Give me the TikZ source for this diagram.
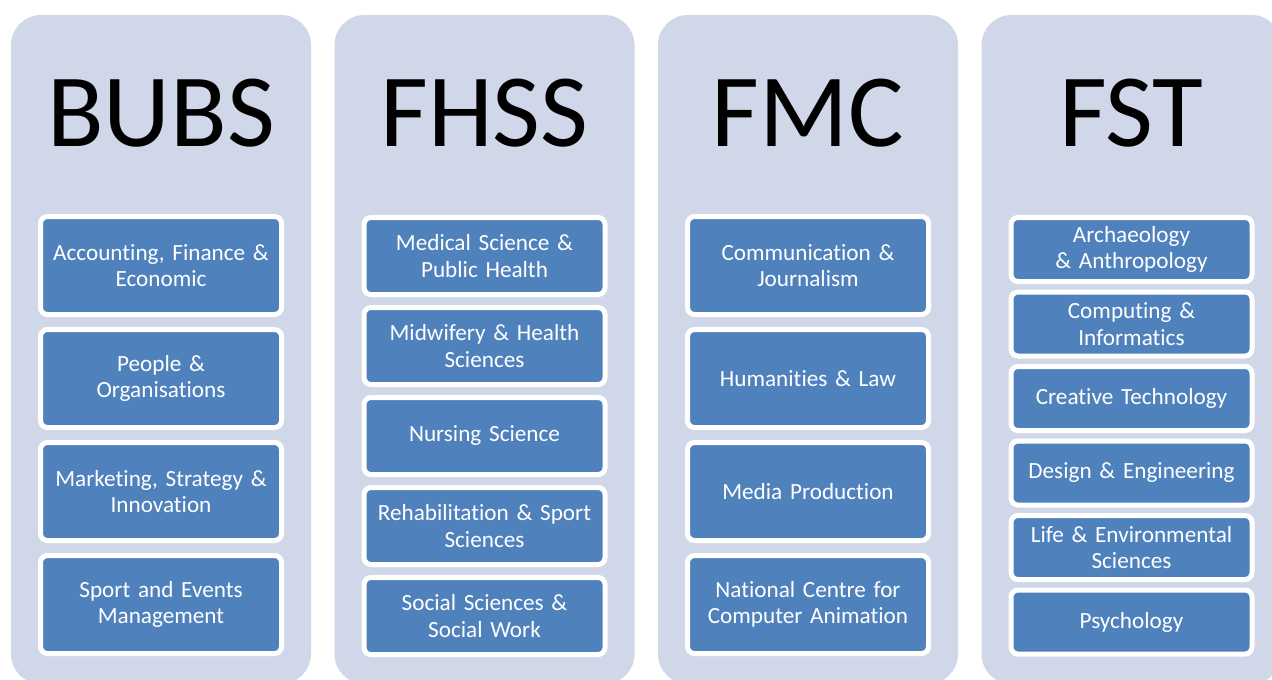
\documentclass[tikz,border=0pt]{standalone}
\usepackage{fontspec}
\setmainfont{Carlito}[WordSpace={0.85},Ligatures=CommonOff]
\definecolor{bgcol}{RGB}{208,215,232}
\definecolor{unitblue}{RGB}{79,129,189}
\begin{document}
\begin{tikzpicture}[x=1pt,y=-1pt,
  col/.style={draw=none, fill=bgcol, rounded corners=30pt, minimum width=300pt, minimum height=669pt, inner sep=0pt},
  facname/.style={font=\fontsize{104}{104}\selectfont, anchor=base, inner sep=0pt, text=black},
  unit/.style={draw=white, line width=5pt, fill=unitblue, rounded corners=7pt, text=white, font=\fontsize{23.2}{26.5}\selectfont, align=center, minimum width=241pt, text width=234pt, inner sep=0pt},
  tallunit/.style={unit, minimum height=98pt},
  midunit/.style={unit, minimum height=77pt},
  shortunit/.style={unit, minimum height=64pt}]
\useasboundingbox (0,0) rectangle (1272,680);
\clip (0,0) rectangle (1272,680);
\fill[white] (0,0) rectangle (1272,680);
% columns
\node[col] (c1) at (161,349.5) {};
\node[col] (c2) at (484.5,349.5) {};
\node[col] (c3) at (808,349.5) {};
\node[col] (c4) at (1131.5,349.5) {};
% titles
\node[facname] (t1) at (161,146) {BUBS};
\node[facname] (t2) at (484.5,146) {FHSS};
\node[facname] (t3) at (808,146) {FMC};
\node[facname] (t4) at (1131.5,146) {FST};
% BUBS
\node[tallunit] (b1) at (161,265.5) {Accounting, Finance \&\\Economic};
\node[tallunit] (b2) at (161,378.5) {People \&\\Organisations};
\node[tallunit] (b3) at (161,491.5) {Marketing, Strategy \&\\Innovation};
\node[tallunit] (b4) at (161,604.5) {Sport and Events\\Management};
% FHSS
\node[midunit] (h1) at (484.5,256) {Medical Science \&\\Public Health};
\node[midunit] (h2) at (484.5,346) {Midwifery \& Health\\Sciences};
\node[midunit] (h3) at (484.5,436) {Nursing Science};
\node[midunit] (h4) at (484.5,526) {Rehabilitation \& Sport\\Sciences};
\node[midunit] (h5) at (484.5,616) {Social Sciences \&\\Social Work};
% FMC
\node[tallunit] (m1) at (808,265.5) {Communication \&\\Journalism};
\node[tallunit] (m2) at (808,378.5) {Humanities \& Law};
\node[tallunit] (m3) at (808,491.5) {Media Production};
\node[tallunit] (m4) at (808,604.5) {National Centre for\\Computer Animation};
% FST
\node[shortunit] (s1) at (1131.5,249.5) {Archaeology\\\& Anthropology};
\node[shortunit] (s2) at (1131.5,324) {Computing \&\\Informatics};
\node[shortunit] (s3) at (1131.5,398.5) {Creative Technology};
\node[shortunit] (s4) at (1131.5,473) {Design \& Engineering};
\node[shortunit] (s5) at (1131.5,547.5) {Life \& Environmental\\Sciences};
\node[shortunit] (s6) at (1131.5,622) {Psychology};
\end{tikzpicture}
\end{document}
